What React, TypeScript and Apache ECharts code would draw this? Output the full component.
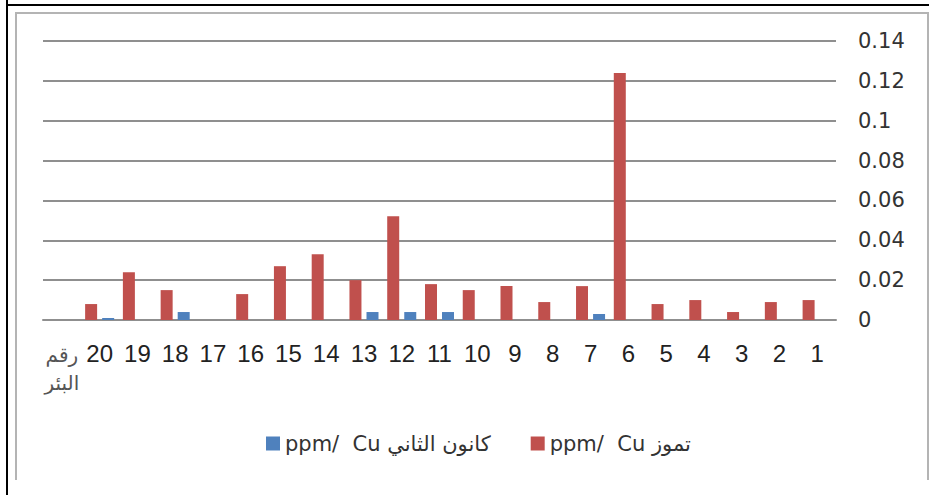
import React, { useEffect, useRef } from "react";
import * as echarts from "echarts";

const categories = ["1","2","3","4","5","6","7","8","9","10","11","12","13","14","15","16","17","18","19","20","رقم البئر"];
const julyName = "ppm/  Cu تموز";
const janName = "ppm/  Cu كانون الثاني";
const julyValues = [0.010,0.009,0.004,0.010,0.008,0.124,0.017,0.009,0.017,0.015,0.018,0.052,0.020,0.033,0.027,0.013,0,0.015,0.024,0.008,null];
const janValues = [0,0,0,0,0,0,0.003,0,0,0,0.004,0.004,0.004,0,0,0,0,0.004,0,0.001,null];
const yTicks = { min: 0, max: 0.14, interval: 0.02 };

export default function App() {
  const ref = useRef<HTMLDivElement>(null);
  useEffect(() => {
    document.body.style.margin = "0";
    const chart = echarts.init(ref.current!, null, { renderer: "svg" });
    chart.setOption({
      animation: false,
      backgroundColor: "#ffffff",
      grid: { left: 43, right: 93, top: 41, bottom: 175, containLabel: false },
      legend: {
        data: [janName, julyName],
        left: 261,
        top: 428,
        itemWidth: 14,
        itemHeight: 14,
        itemGap: 40,
        icon: "rect",
        textStyle: { fontFamily: "DejaVu Sans", fontSize: 21, color: "#333" },
      },
      xAxis: {
        type: "category",
        data: categories,
        inverse: true,
        axisLine: { show: true, lineStyle: { color: "#8f8f8f", width: 2 } },
        axisTick: { show: false },
        axisLabel: {
          interval: 0,
          margin: 21,
          fontFamily: "Liberation Sans",
          fontSize: 24,
          color: "#222",
          formatter: (v: string) => (v === "رقم البئر" ? "{ar|رقم}\n{ar|البئر}" : v),
          rich: {
            ar: { fontFamily: "DejaVu Sans", fontSize: 20, color: "#555", lineHeight: 28 },
          },
        },
      },
      yAxis: {
        type: "value",
        position: "right",
        min: yTicks.min,
        max: yTicks.max,
        interval: yTicks.interval,
        axisLine: { show: false },
        axisTick: { show: false },
        splitLine: { lineStyle: { color: "#8f8f8f", width: 2 } },
        axisLabel: {
          margin: 22,
          align: "left",
          fontFamily: "DejaVu Sans",
          fontSize: 21,
          color: "#333",
        },
      },
      series: [
        {
          name: julyName,
          type: "bar",
          data: julyValues,
          barWidth: 12,
          barGap: "42%",
          itemStyle: { color: "#C0504D" },
        },
        {
          name: janName,
          type: "bar",
          data: janValues,
          barWidth: 12,
          barGap: "42%",
          itemStyle: { color: "#4F81BD" },
        },
      ],
      graphic: [
        {
          type: "polyline",
          silent: true,
          shape: { points: [[16, 480], [16, 13], [928, 13], [928, 480]] },
          style: { stroke: "#b4b4b4", lineWidth: 2, fill: null },
        },
        {
          type: "line",
          silent: true,
          shape: { x1: 7, y1: 0, x2: 7, y2: 495 },
          style: { stroke: "#000", lineWidth: 2 },
        },
        {
          type: "line",
          silent: true,
          shape: { x1: 6, y1: 5, x2: 929, y2: 5 },
          style: { stroke: "#000", lineWidth: 2 },
        },
      ],
    });
    return () => chart.dispose();
  }, []);
  return <div ref={ref} style={{ width: 929, height: 495 }} />;
}
